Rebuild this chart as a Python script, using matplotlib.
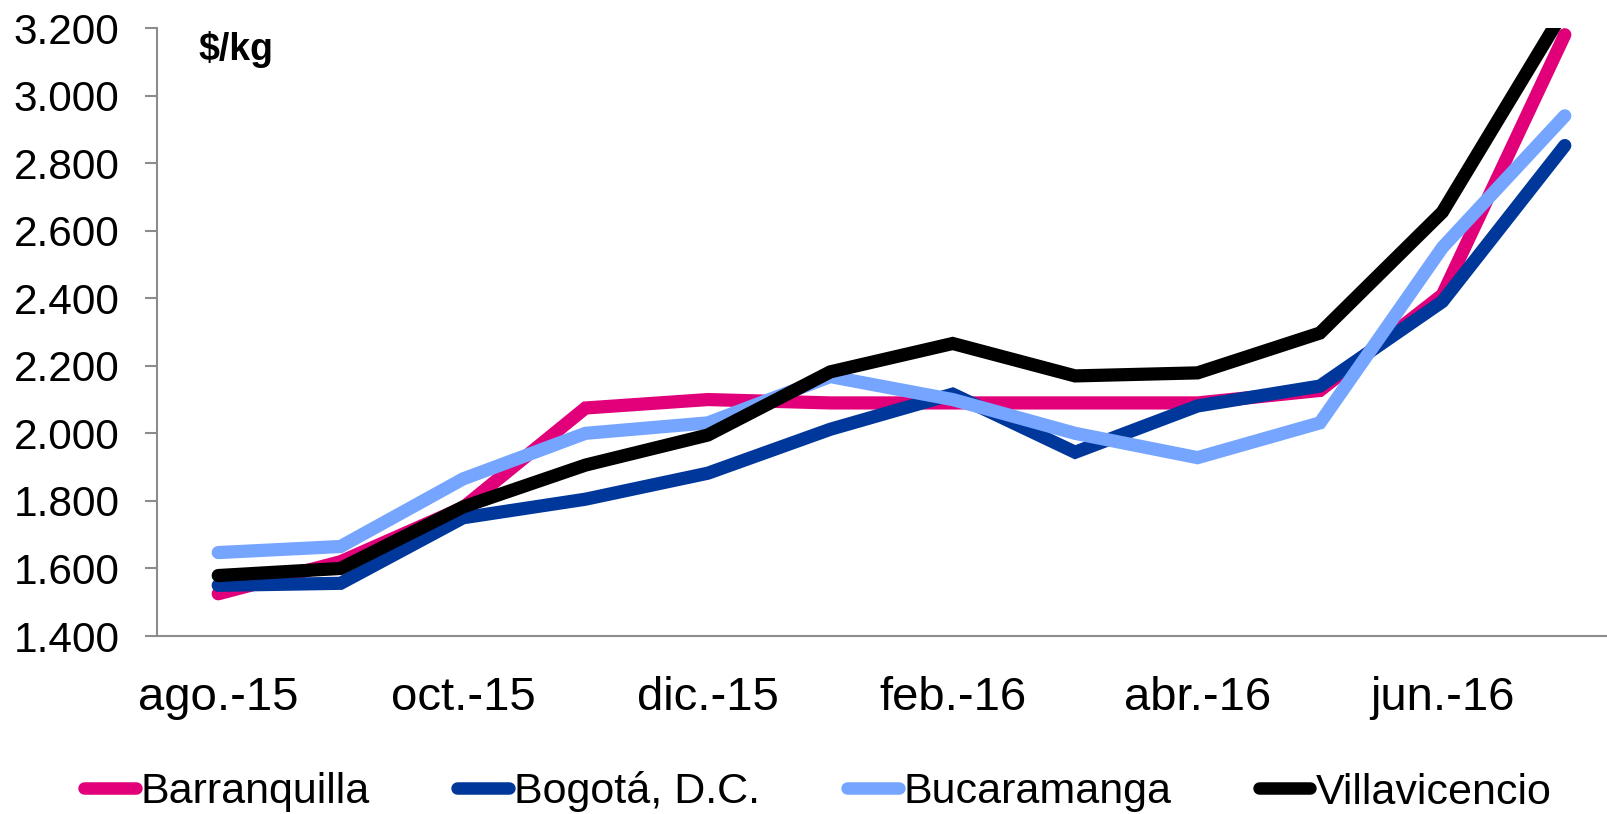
import matplotlib
matplotlib.use("Agg")
import matplotlib.pyplot as plt
from matplotlib.ticker import FuncFormatter, MultipleLocator

plt.rcParams['font.family'] = ['Liberation Sans', 'DejaVu Sans']

months = ["ago.-15", "sep.-15", "oct.-15", "nov.-15", "dic.-15", "ene.-16",
          "feb.-16", "mar.-16", "abr.-16", "may.-16", "jun.-16", "jul.-16"]

barranquilla = [1525, 1620, 1780, 2075, 2100, 2090, 2090, 2090, 2090, 2127, 2410, 3180]
bogota = [1550, 1556, 1750, 1805, 1882, 2012, 2116, 1944, 2081, 2140, 2390, 2852]
bucaramanga = [1647, 1665, 1865, 2000, 2031, 2168, 2100, 2000, 1928, 2031, 2550, 2940]
villavicencio = [1579, 1600, 1782, 1906, 1995, 2182, 2266, 2170, 2179, 2297, 2655, 3255]

series_names = ["Barranquilla", "Bogotá, D.C.", "Bucaramanga", "Villavicencio"]
series_values = [barranquilla, bogota, bucaramanga, villavicencio]
colors = ["#E2007A", "#00379A", "#75A5FF", "#000000"]

W, H = 1608, 814
fig = plt.figure(figsize=(W / 100, H / 100), dpi=100)
left, right, top, bottom = 157, 1626, 28, 636
ax = fig.add_axes([left / W, 1 - bottom / H, (right - left) / W, (bottom - top) / H])

x = list(range(len(months)))
for name, vals, c in zip(series_names, series_values, colors):
    ax.plot(x, vals, color=c, lw=9.5, label=name, solid_capstyle='round',
            solid_joinstyle='miter')

ax.set_xlim(-0.5, len(months) - 0.5)
ax.set_ylim(1400, 3200)
ax.yaxis.set_major_locator(MultipleLocator(200))
ax.yaxis.set_major_formatter(FuncFormatter(lambda v, p: f"{int(v):,}".replace(",", ".")))
ax.set_xticks(x[::2])
ax.set_xticklabels(months[::2])

for s in ["top", "right"]:
    ax.spines[s].set_visible(False)
for s in ["left", "bottom"]:
    ax.spines[s].set_color("#8C8C8C")
    ax.spines[s].set_linewidth(1.5)

ax.tick_params(axis='y', direction='out', length=8.6, width=1.5, color="#8C8C8C",
               labelsize=30.5, pad=18.5, labelcolor="black")
ax.tick_params(axis='x', length=0, labelsize=34, pad=29, labelcolor="black")

fig.text(198 / W, 1 - 49 / H, "$/kg", fontsize=27, fontweight='bold', va='center', ha='left')

leg = fig.legend(loc='center left', bbox_to_anchor=(84 / W, 1 - 792 / H), ncol=4,
                 frameon=False, fontsize=31, handlelength=1.2, handletextpad=0.12,
                 columnspacing=2.02, borderpad=0, borderaxespad=0)
for h in leg.get_lines():
    h.set_linewidth(9)
    h.set_solid_capstyle('round')

fig.savefig("out.png", dpi=100)
